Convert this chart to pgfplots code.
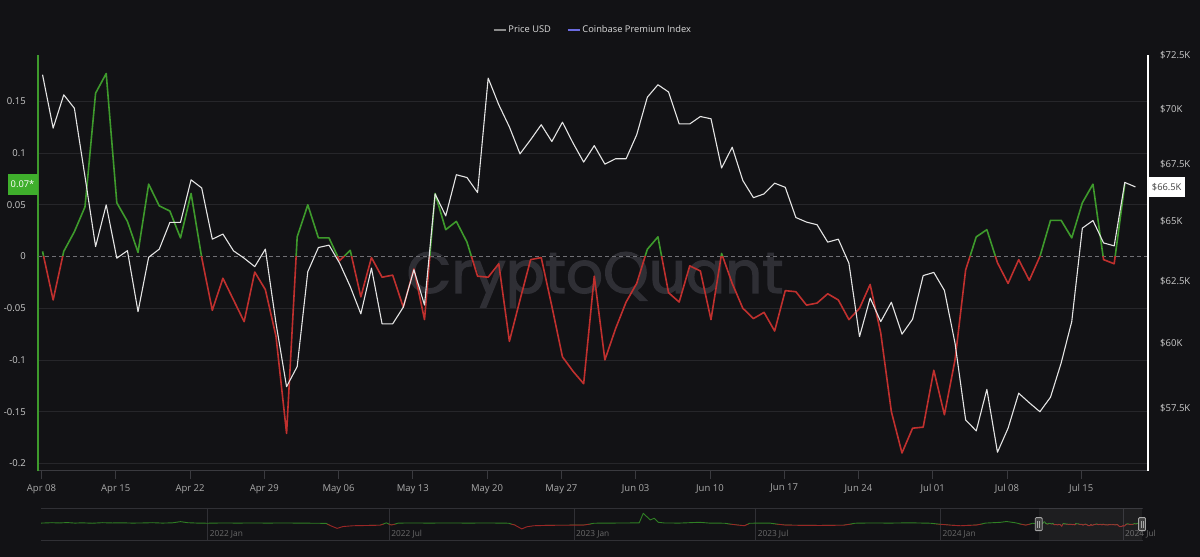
\documentclass[border=0pt]{standalone}
\usepackage{pgfplots}
\pgfplotsset{compat=1.18}
\usepackage{pgfplotstable}
\usepackage{fontspec}
\setmainfont{Open Sans}
\newfontfamily\wmfont{Poppins}[FakeBold=2]
\definecolor{bg}{HTML}{121215}
\definecolor{gridc}{HTML}{26262A}
\definecolor{pgreen}{HTML}{3E9A2C}
\definecolor{pred}{HTML}{C0302E}
\definecolor{pricec}{HTML}{E4E4E4}
\definecolor{ticklab}{HTML}{CCCCCC}
\definecolor{xlab}{HTML}{AAAAAA}
\definecolor{legtext}{HTML}{DDDDDD}
\definecolor{leggray}{HTML}{8A8A8A}
\definecolor{legblue}{HTML}{6B6BE0}
\definecolor{navline}{HTML}{303035}
\definecolor{navlab}{HTML}{6A6A6A}
\definecolor{navgreen}{HTML}{2F7F24}
\definecolor{navred}{HTML}{9A2626}
\definecolor{wm}{HTML}{2F2F35}
\definecolor{axisgray}{HTML}{3A3A3F}
\definecolor{zeroc}{HTML}{707075}
\definecolor{boxgreen}{HTML}{3FAF2C}

\pgfplotstableread{
d v
0 0.005
1 -0.042
2 0.005
3 0.024
4 0.048
5 0.158
6 0.177
7 0.052
8 0.034
9 0.004
10 0.070
11 0.049
12 0.044
13 0.018
14 0.061
15 -0.001
16 -0.052
17 -0.021
18 -0.042
19 -0.063
20 -0.015
21 -0.032
22 -0.077
23 -0.171
24 0.019
25 0.050
26 0.018
27 0.018
28 -0.004
29 0.006
30 -0.039
31 -0.001
32 -0.020
33 -0.018
34 -0.049
35 -0.012
36 -0.061
37 0.061
38 0.026
39 0.034
40 0.014
41 -0.019
42 -0.020
43 -0.007
44 -0.082
45 -0.042
46 -0.003
47 -0.001
48 -0.048
49 -0.097
50 -0.111
51 -0.123
52 -0.019
53 -0.100
54 -0.070
55 -0.044
56 -0.026
57 0.007
58 0.019
59 -0.035
60 -0.044
61 -0.009
62 -0.014
63 -0.061
64 0.003
65 -0.026
66 -0.050
67 -0.060
68 -0.054
69 -0.072
70 -0.033
71 -0.034
72 -0.047
73 -0.045
74 -0.036
75 -0.042
76 -0.061
77 -0.050
78 -0.027
79 -0.074
80 -0.150
81 -0.190
82 -0.166
83 -0.165
84 -0.110
85 -0.153
86 -0.100
87 -0.013
88 0.019
89 0.026
90 -0.006
91 -0.026
92 -0.003
93 -0.023
94 0.000
95 0.035
96 0.035
97 0.018
98 0.052
99 0.070
100 -0.003
101 -0.007
102 0.070
}\prem

\pgfplotstableread{
d p
0 71.59
1 69.12
2 70.65
3 70.03
4 66.95
5 63.94
6 65.72
7 63.45
8 63.77
9 61.26
10 63.49
11 63.83
12 64.96
13 64.96
14 66.81
15 66.45
16 64.25
17 64.47
18 63.76
19 63.45
20 63.10
21 63.83
22 60.80
23 58.31
24 59.09
25 62.89
26 63.90
27 64.00
28 63.24
29 62.28
30 61.17
31 63.04
32 60.77
33 60.77
34 61.44
35 62.97
36 61.53
37 66.19
38 65.24
39 67.03
40 66.91
41 66.25
42 71.43
43 70.19
44 69.17
45 67.96
46 68.59
47 69.27
48 68.51
49 69.39
50 68.44
51 67.59
52 68.33
53 67.50
54 67.74
55 67.74
56 68.82
57 70.54
58 71.12
59 70.78
60 69.31
61 69.31
62 69.65
63 69.54
64 67.33
65 68.26
66 66.78
67 66.03
68 66.19
69 66.66
70 66.48
71 65.17
72 64.98
73 64.86
74 64.13
75 64.25
76 63.24
77 60.26
78 61.81
79 60.86
80 61.64
81 60.36
82 60.96
83 62.73
84 62.86
85 62.12
86 60.00
87 57.05
88 56.64
89 58.21
90 55.85
91 56.74
92 58.06
93 57.70
94 57.36
95 57.91
96 59.22
97 60.86
98 64.72
99 65.04
100 64.09
101 63.97
102 66.69
103 66.50
}\price

\pgfplotstableread{
d v
-166 0.08
-155 0.11
-148 0.09
-140 0.12
-132 0.08
-125 0.10
-115 0.07
-105 0.11
-95 0.09
-85 0.10
-75 0.08
-65 0.09
-55 0.11
-45 0.08
-35 0.10
-27 0.19
-20 0.11
-10 0.08
0 0.07
15 0.09
30 0.08
45 0.09
60 0.08
75 0.09
90 0.08
105 0.07
118 0.06
122 -0.10
129 -0.32
135 -0.18
145 -0.12
160 -0.10
172 -0.08
178 0.10
183 -0.07
190 0.08
205 0.09
220 0.08
240 0.09
260 0.08
280 0.09
300 0.07
306 -0.07
313 -0.36
318 -0.20
325 -0.12
340 -0.09
360 -0.08
375 -0.07
385 0.07
400 0.08
420 0.09
430 0.10
434 0.82
441 0.32
445 0.45
449 0.14
455 0.09
470 0.08
490 0.14
500 0.08
515 0.07
528 -0.07
535 -0.12
540 0.07
560 0.08
575 -0.07
590 -0.09
610 -0.10
634 -0.08
645 0.07
660 0.09
680 0.08
700 0.10
720 0.07
740 -0.08
750 -0.12
766 -0.07
775 0.08
790 0.14
796 0.20
805 0.10
815 -0.08
822 0.07
828 0.005
}\nav

\begin{document}
\begin{tikzpicture}[x=1pt,y=1pt]
\fill[bg] (0,0) rectangle (1200,557);
\node[text=wm, font=\wmfont\fontsize{58}{58}\selectfont, inner sep=0pt] at (595,277) {CryptoQuant};

% ---------- premium index (left axis) ----------
\begin{axis}[
  at={(38.3pt,86pt)}, anchor=south west,
  scale only axis, width=1109.4pt, height=416pt,
  xmin=-0.40, xmax=104.16,
  ymin=-0.2074, ymax=0.1949,
  axis x line*=bottom, axis y line*=left,
  x axis line style={draw=axisgray, line width=1pt},
  y axis line style={draw=pgreen, line width=1.6pt},
  xtick={-0.1,6.9,13.9,20.9,27.9,34.9,41.9,48.9,55.9,62.9,69.9,76.9,83.9,90.9,97.9},
  xticklabels={Apr 08,Apr 15,Apr 22,Apr 29,May 06,May 13,May 20,May 27,Jun 03,Jun 10,Jun 17,Jun 24,Jul 01,Jul 08,Jul 15},
  xtick align=outside, major tick length=8pt,
  xtick style={draw=axisgray, line width=0.8pt},
  ytick={-0.2,-0.15,-0.1,-0.05,0,0.05,0.1,0.15},
  yticklabels={-0.2,-0.15,-0.1,-0.05,0,0.05,0.1,0.15},
  ytick style={draw=none},
  ymajorgrids, grid style={draw=gridc, line width=0.8pt},
  every tick label/.append style={font=\fontsize{9.5}{11}\selectfont},
  yticklabel style={text=ticklab, inner sep=0pt, anchor=east, xshift=-12.3pt},
  xticklabel style={text=xlab, inner sep=0pt, yshift=-5pt},
  legend style={at={(0.5,1)}, anchor=center, yshift=25pt, draw=none, fill=none,
    text=legtext, font=\fontsize{9.3}{11}\selectfont, legend columns=2,
    /tikz/every even column/.append style={column sep=14pt}},
  legend image code/.code={\draw[#1] (0pt,0pt) -- (12pt,0pt);},
  line join=round,
]
\addlegendimage{leggray, line width=1.5pt}
\addlegendentry{Price USD}
\addlegendimage{legblue, line width=1.5pt}
\addlegendentry{Coinbase Premium Index}
\addplot[bg, line width=1pt, forget plot] coordinates {(-0.4,0) (104.16,0)};
\addplot[zeroc, line width=0.8pt, dash pattern=on 4pt off 3pt, forget plot] coordinates {(-0.4,0) (104.16,0)};
\begin{scope}
\clip (axis cs:-5,0) rectangle (axis cs:110,0.5);
\addplot[pgreen, line width=1.6pt, forget plot] table[x=d,y=v]{\prem};
\end{scope}
\begin{scope}
\clip (axis cs:-5,-0.5) rectangle (axis cs:110,0);
\addplot[pred, line width=1.6pt, forget plot] table[x=d,y=v]{\prem};
\end{scope}
\coordinate (lastprem) at (axis cs:-0.40,0.07);
\end{axis}

% ---------- price (right axis, log) ----------
\begin{axis}[
  at={(38.3pt,86pt)}, anchor=south west,
  scale only axis, width=1109.4pt, height=416pt,
  xmin=-0.40, xmax=104.16,
  ymode=log, ymin=55.17, ymax=72.53,
  axis x line=none, axis y line*=right,
  y axis line style={draw=white, line width=1.6pt},
  ytick={57.5,60,62.5,65,67.5,70,72.5},
  yticklabels={\$57.5K,\$60K,\$62.5K,\$65K,\$67.5K,\$70K,\$72.5K},
  ytick style={draw=none},
  every tick label/.append style={font=\fontsize{9.5}{11}\selectfont},
  yticklabel style={text=ticklab, inner sep=0pt, anchor=west, xshift=12.3pt},
  line join=round,
]
\addplot[pricec, line width=1.1pt] table[x=d,y=p]{\price};
\coordinate (lastprice) at (axis cs:104.16,66.5);
\end{axis}

\node[fill=boxgreen, text=white, anchor=east, minimum width=30pt, minimum height=21pt, inner sep=0pt,
  font=\fontsize{9.3}{11}\selectfont] at ([xshift=-0.6pt]lastprem) {0.07*};
\node[fill=white, text=black!75, anchor=west, minimum width=36.6pt, minimum height=20.7pt, inner sep=0pt,
  font=\fontsize{9.3}{11}\selectfont] at ([xshift=0.5pt]lastprice) {\$66.5K};

% ---------- navigator ----------
\begin{axis}[
  at={(41pt,17pt)}, anchor=south west,
  scale only axis, width=1102pt, height=31.7pt,
  xmin=-166, xmax=932, ymin=-1.2, ymax=1.2,
  axis x line=box, axis y line=none,
  x axis line style={draw=navline, line width=0.8pt},
  xtick={0,181,365,546,730,912},
  xticklabels={2022 Jan,2022 Jul,2023 Jan,2023 Jul,2024 Jan,2024 Jul},
  xtick style={draw=none}, ytick=\empty,
  xmajorgrids, grid style={draw=navline, line width=0.8pt},
  xticklabel style={text=navlab, font=\fontsize{8.3}{10}\selectfont, anchor=base west, inner sep=0pt, xshift=2pt, yshift=3.5pt},
  line join=round,
]
\begin{scope}
\clip (axis cs:-200,0) rectangle (axis cs:1000,2);
\addplot[navgreen, line width=0.9pt] table[x=d,y=v]{\nav};
\addplot[navgreen, line width=0.9pt] table[x expr=\thisrow{d}+828,y=v]{\prem};
\end{scope}
\begin{scope}
\clip (axis cs:-200,-2) rectangle (axis cs:1000,0);
\addplot[navred, line width=0.9pt] table[x=d,y=v]{\nav};
\addplot[navred, line width=0.9pt] table[x expr=\thisrow{d}+828,y=v]{\prem};
\end{scope}
\addplot[draw=none, fill=white, fill opacity=0.05] coordinates {(828,-1.2) (931,-1.2) (931,1.2) (828,1.2)} -- cycle;
\coordinate (h1) at (axis cs:828,0);
\coordinate (h2) at (axis cs:931,0);
\end{axis}
\foreach \h in {h1,h2}{
  \node[draw=black!35, fill=black!75, minimum width=7pt, minimum height=13pt, inner sep=0pt, rounded corners=1pt, line width=0.8pt] at (\h) {};
  \draw[black!35, line width=0.6pt] ([xshift=-1pt,yshift=-3.5pt]\h) -- ([xshift=-1pt,yshift=3.5pt]\h);
  \draw[black!35, line width=0.6pt] ([xshift=1pt,yshift=-3.5pt]\h) -- ([xshift=1pt,yshift=3.5pt]\h);
}
\pgfresetboundingbox
\path (0,0) rectangle (1200,557);
\end{tikzpicture}
\end{document}
